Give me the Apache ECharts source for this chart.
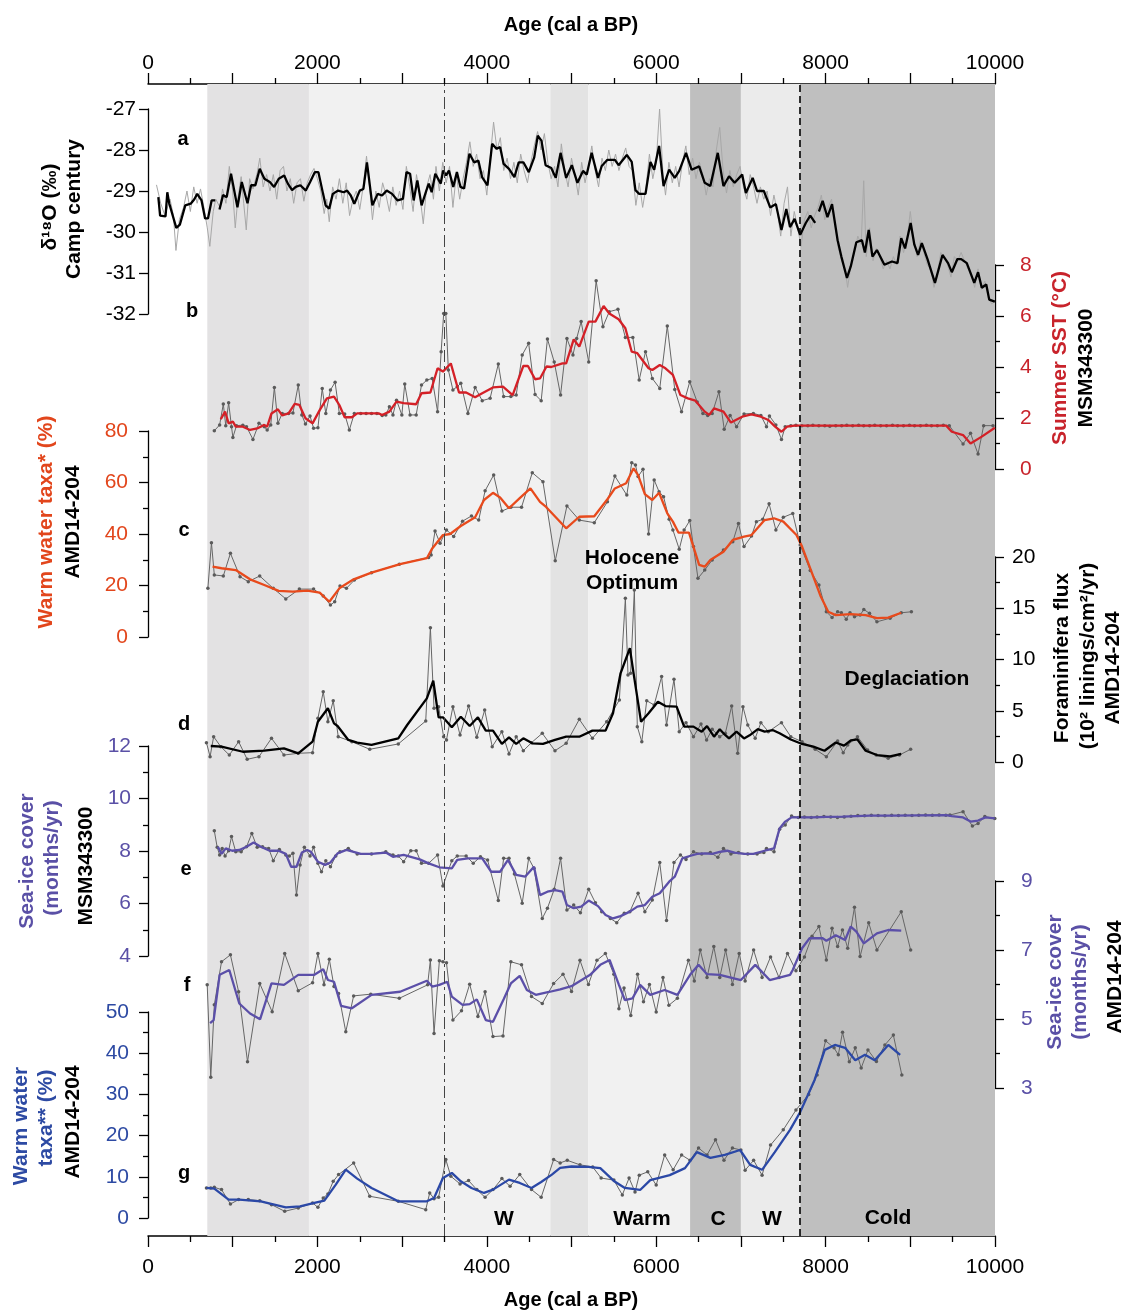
<!DOCTYPE html>
<html><head><meta charset="utf-8">
<script src="https://cdn.jsdelivr.net/npm/echarts@6/dist/echarts.min.js"></script>
<style>html,body{margin:0;padding:0;background:#fff}#c{width:1127px;height:1312px}</style>
</head><body><div id="c"></div>
<script>
// ---------- DATA ----------
const xTicks = [0, 2000, 4000, 6000, 8000, 10000];
const bandStart = [700, 1900, 4750, 5200, 6400, 7000, 7700];
const bandEnd   = [1900, 4750, 5200, 6400, 7000, 7700, 10000];
const periodLines = [3500, 7700];

// a: d18O Camp Century (raw, smoothed)
const aRaw = [[100,-28.85],[150,-29.3],[200,-29.6],[260,-29.2],[300,-29.6],[330,-30.45],[370,-29.7],[420,-29.4],[460,-29.0],[500,-29.5],[540,-28.9],[580,-29.3],[620,-28.95],[660,-29.4],[700,-29.9],[730,-30.35],[770,-29.5],[800,-29.2],[850,-29.4],[880,-28.95],[920,-29.3],[960,-28.4],[1000,-29.0],[1030,-29.9],[1060,-29.2],[1100,-28.65],[1130,-29.3],[1160,-29.95],[1200,-28.7],[1240,-28.95],[1290,-28.55],[1320,-28.2],[1360,-28.9],[1400,-28.6],[1440,-29.0],[1480,-28.6],[1520,-29.2],[1560,-28.5],[1600,-28.4],[1640,-29.0],[1680,-28.7],[1720,-29.3],[1760,-28.8],[1800,-28.7],[1840,-29.25],[1880,-28.8],[1920,-28.6],[1960,-28.45],[2000,-28.7],[2040,-29.0],[2080,-29.55],[2110,-29.2],[2140,-29.75],[2180,-28.9],[2220,-29.2],[2260,-28.7],[2300,-29.3],[2340,-28.8],[2380,-29.6],[2420,-29.2],[2460,-29.0],[2500,-29.45],[2540,-28.9],[2580,-28.15],[2620,-29.0],[2650,-29.7],[2690,-29.0],[2730,-29.4],[2770,-28.8],[2810,-29.1],[2850,-29.5],[2890,-28.9],[2930,-29.35],[2970,-29.0],[3010,-29.45],[3050,-28.4],[3090,-28.9],[3130,-29.5],[3170,-28.6],[3210,-29.1],[3250,-29.8],[3290,-28.9],[3330,-28.6],[3370,-29.2],[3400,-28.4],[3440,-29.0],[3480,-28.3],[3520,-28.8],[3560,-28.4],[3600,-29.4],[3640,-28.6],[3680,-29.2],[3720,-28.7],[3760,-28.3],[3800,-27.8],[3840,-28.4],[3880,-28.1],[3920,-28.7],[3960,-28.5],[4000,-29.1],[4040,-28.2],[4080,-27.32],[4120,-28.0],[4160,-27.7],[4200,-28.5],[4240,-28.2],[4280,-28.7],[4320,-28.3],[4360,-28.8],[4400,-28.1],[4440,-28.5],[4480,-28.8],[4520,-28.3],[4560,-27.9],[4600,-27.55],[4640,-28.0],[4680,-27.6],[4720,-28.3],[4760,-28.7],[4800,-28.4],[4840,-28.9],[4880,-27.85],[4920,-28.5],[4960,-28.9],[5000,-28.2],[5040,-28.6],[5080,-29.1],[5120,-28.3],[5160,-28.8],[5200,-28.4],[5240,-27.9],[5280,-28.5],[5320,-28.9],[5360,-28.2],[5400,-28.5],[5440,-28.0],[5480,-28.4],[5520,-28.1],[5560,-28.5],[5600,-28.2],[5640,-27.95],[5680,-28.4],[5720,-28.5],[5760,-29.35],[5800,-28.8],[5840,-29.4],[5880,-28.9],[5920,-28.1],[5960,-28.7],[6000,-28.3],[6040,-27.0],[6080,-28.6],[6110,-29.1],[6150,-28.3],[6190,-28.8],[6230,-28.4],[6270,-28.9],[6310,-28.3],[6350,-27.9],[6390,-28.6],[6430,-28.2],[6470,-28.7],[6510,-28.3],[6550,-28.6],[6590,-29.1],[6630,-28.7],[6670,-28.9],[6710,-28.0],[6750,-27.45],[6790,-28.5],[6830,-29.05],[6870,-28.5],[6910,-28.9],[6950,-28.6],[6990,-28.4],[7030,-28.9],[7070,-29.2],[7110,-28.6],[7150,-28.9],[7190,-29.3],[7230,-28.9],[7270,-29.2],[7310,-29.0],[7350,-29.6],[7390,-29.1],[7430,-29.5],[7470,-30.1],[7510,-29.3],[7550,-28.9],[7590,-30.1],[7630,-29.5],[7670,-29.9],[7710,-30.35],[7750,-29.7],[7790,-29.5],[7830,-29.9],[7870,-29.6],[7910,-29.4],[7950,-29.1],[7990,-29.7],[8030,-29.4],[8070,-29.2],[8110,-29.8],[8150,-30.4],[8190,-30.7],[8230,-30.9],[8260,-31.35],[8300,-30.8],[8340,-30.5],[8380,-30.1],[8420,-30.3],[8450,-28.75],[8480,-30.6],[8520,-29.9],[8560,-30.7],[8600,-30.4],[8640,-30.6],[8680,-30.9],[8720,-30.7],[8760,-30.9],[8800,-30.6],[8840,-30.8],[8880,-30.1],[8920,-30.5],[8960,-30.2],[9000,-29.5],[9040,-30.2],[9080,-30.6],[9120,-30.2],[9160,-30.5],[9200,-30.8],[9240,-30.9],[9280,-31.35],[9320,-31.0],[9360,-30.5],[9400,-30.6],[9440,-30.8],[9480,-31.1],[9520,-30.6],[9560,-30.7],[9600,-30.5],[9640,-30.7],[9680,-30.9],[9720,-31.0],[9760,-31.35],[9800,-30.9],[9840,-31.4],[9880,-31.2],[9920,-31.6],[9960,-31.75],[9998,-31.7]];
const aSmooth = [[122,-29.15],[143,-29.6],[207,-29.62],[228,-29.03],[250,-29.3],[334,-29.9],[376,-29.82],[440,-29.35],[504,-29.31],[547,-29.2],[581,-29.07],[632,-29.23],[674,-29.67],[708,-29.67],[751,-29.23],[793,-29.23],[815,null],[844,-29.45],[886,-29.1],[929,-29.15],[980,-28.58],[1056,-29.4],[1107,-28.78],[1175,-29.3],[1217,-28.86],[1268,-28.86],[1319,-28.46],[1374,-28.7],[1438,-28.78],[1489,-28.9],[1544,-28.7],[1608,-28.62],[1651,-28.82],[1701,-28.98],[1744,-28.9],[1799,-28.86],[1863,-28.99],[1914,-28.78],[1969,-28.54],[2012,-28.54],[2067,-29.07],[2097,-29.35],[2139,-29.43],[2182,-29.07],[2245,-28.99],[2309,-29.03],[2351,-28.99],[2394,-29.11],[2436,-29.31],[2500,-28.99],[2543,-28.95],[2585,-28.3],[2649,-29.35],[2712,-29.07],[2763,-29.11],[2818,-28.99],[2882,-29.07],[2946,-29.23],[3009,-29.19],[3052,-28.54],[3094,-28.58],[3137,-29.23],[3180,-28.74],[3230,-29.35],[3286,-28.99],[3315,-28.82],[3349,-29.03],[3392,-28.58],[3456,-28.82],[3485,-28.5],[3519,-28.62],[3553,-28.5],[3604,-28.9],[3647,-28.54],[3689,-28.9],[3732,-28.94],[3795,-28.09],[3850,-28.3],[3901,-28.26],[3944,-28.66],[4008,-28.86],[4063,-27.85],[4114,-27.97],[4157,-27.93],[4199,-28.34],[4262,-28.46],[4326,-28.66],[4377,-28.3],[4432,-28.3],[4496,-28.54],[4560,-28.18],[4602,-27.65],[4645,-27.77],[4694,-28.37],[4761,-28.44],[4814,-28.68],[4871,-28.07],[4937,-28.68],[5004,-28.37],[5070,-28.8],[5136,-28.51],[5180,-28.6],[5238,-28.07],[5313,-28.68],[5357,-28.39],[5424,-28.24],[5512,-28.24],[5556,-28.37],[5653,-28.12],[5711,-28.29],[5755,-28.98],[5799,-29.07],[5874,-29.07],[5932,-28.29],[5976,-28.48],[6034,-27.9],[6087,-28.88],[6153,-28.48],[6219,-28.68],[6272,-28.51],[6352,-28.07],[6418,-28.48],[6507,-28.4],[6573,-28.8],[6639,-28.88],[6727,-28.07],[6794,-28.88],[6860,-28.64],[6926,-28.8],[7015,-28.6],[7059,-29.05],[7139,-28.68],[7191,-29.0],[7271,-29.0],[7346,-29.4],[7413,-29.32],[7479,-29.95],[7536,-29.44],[7580,-29.88],[7634,-29.68],[7700,-30.07],[7766,-29.78],[7819,-29.6],[7877,-29.78],[7900,null],[7921,-29.5],[7965,-29.24],[8022,-29.64],[8076,-29.32],[8142,-30.2],[8186,-30.6],[8252,-31.12],[8297,-30.84],[8363,-30.25],[8429,-30.2],[8464,-30.5],[8509,-29.95],[8553,-30.6],[8606,-30.44],[8694,-30.8],[8783,-30.72],[8849,-30.76],[8893,-30.15],[8938,-30.4],[9004,-29.78],[9048,-30.31],[9092,-30.56],[9136,-30.27],[9203,-30.66],[9291,-31.24],[9380,-30.56],[9446,-30.76],[9490,-30.98],[9556,-30.66],[9601,-30.66],[9667,-30.76],[9755,-31.24],[9800,-30.98],[9844,-31.36],[9897,-31.28],[9932,-31.65],[9998,-31.7]];

// b: Summer SST MSM343300
const bRaw = [[783,1.5],[846,1.73],[889,2.55],[918,1.7],[952,2.6],[986,1.66],[1002,1.24],[1045,1.7],[1120,1.72],[1163,1.66],[1239,1.16],[1310,1.79],[1373,1.66],[1407,1.53],[1449,1.73],[1492,3.2],[1534,1.79],[1584,2.18],[1660,2.18],[1711,2.2],[1774,3.29],[1816,2.12],[1859,1.76],[1913,2.08],[1955,1.6],[2006,1.62],[2057,3.16],[2099,2.18],[2154,3.1],[2209,3.4],[2259,2.18],[2322,2.16],[2377,1.53],[2436,2.18],[2512,2.18],[2575,2.18],[2639,2.18],[2702,2.18],[2765,2.1],[2808,2.12],[2850,2.44],[2892,2.12],[2934,2.7],[2997,2.12],[3031,3.33],[3094,2.12],[3166,2.12],[3229,3.29],[3292,3.49],[3355,3.55],[3419,2.25],[3461,4.6],[3491,6.1],[3516,6.1],[3546,3.88],[3600,3.1],[3651,3.23],[3693,3.36],[3777,2.18],[3862,3.2],[3946,2.68],[4039,2.77],[4136,4.12],[4199,2.84],[4284,2.84],[4347,2.9],[4418,4.47],[4494,4.93],[4570,2.92],[4642,2.68],[4716,5.1],[4796,4.2],[4871,2.9],[4946,5.12],[5017,4.47],[5061,5.12],[5114,5.78],[5203,4.2],[5291,7.38],[5371,5.58],[5446,6.17],[5548,6.26],[5636,5.16],[5724,5.16],[5799,3.49],[5874,4.6],[5954,3.55],[6042,3.16],[6131,5.61],[6219,3.12],[6299,2.25],[6396,3.42],[6484,2.63],[6551,2.18],[6608,2.1],[6661,2.18],[6741,3.03],[6803,1.56],[6873,2.1],[6949,1.66],[7037,2.16],[7147,2.18],[7236,2.1],[7302,1.66],[7337,2.08],[7413,1.73],[7479,1.16],[7523,1.66],[7589,1.7],[7650,1.72],[7720,1.7],[7790,1.7],[7850,1.72],[7920,1.7],[7990,1.7],[8050,1.68],[8120,1.7],[8190,1.7],[8250,1.72],[8320,1.7],[8390,1.72],[8450,1.7],[8520,1.7],[8580,1.72],[8650,1.7],[8720,1.7],[8790,1.72],[8850,1.7],[8920,1.7],[8990,1.72],[9050,1.7],[9120,1.7],[9190,1.72],[9250,1.7],[9320,1.7],[9390,1.72],[9460,1.7],[9623,0.98],[9711,1.4],[9800,0.59],[9866,1.7],[9976,1.7]];
const bSmooth = [[859,1.95],[910,2.25],[952,1.79],[1002,1.86],[1036,1.66],[1120,1.66],[1205,1.53],[1289,1.59],[1373,1.73],[1407,1.66],[1458,2.18],[1534,2.34],[1584,2.1],[1660,2.18],[1732,2.55],[1787,2.51],[1859,1.99],[1943,1.79],[2027,2.31],[2112,2.77],[2196,2.84],[2259,2.51],[2322,2.03],[2407,2.03],[2470,2.18],[2723,2.18],[2765,2.12],[2850,2.25],[2934,2.64],[3018,2.58],[3166,2.54],[3229,2.97],[3334,3.0],[3419,3.95],[3482,3.82],[3575,4.14],[3672,3.0],[3756,3.0],[3862,2.81],[3946,2.97],[4073,3.2],[4191,3.23],[4305,2.9],[4431,4.04],[4486,4.04],[4570,3.52],[4628,3.55],[4705,4.02],[4761,4.0],[4893,4.14],[4937,4.14],[5026,5.08],[5092,4.8],[5203,5.78],[5282,5.78],[5379,6.39],[5446,6.1],[5556,5.87],[5636,5.52],[5711,4.6],[5777,4.54],[5910,3.95],[5954,3.88],[6042,4.08],[6109,3.95],[6197,3.69],[6286,2.9],[6374,2.77],[6462,2.68],[6573,2.25],[6626,2.12],[6683,2.38],[6794,2.25],[6882,1.82],[7015,2.05],[7125,2.14],[7236,2.05],[7324,1.92],[7404,1.66],[7479,1.46],[7545,1.66],[7634,1.7],[9424,1.7],[9490,1.46],[9623,1.33],[9711,1.0],[9844,1.27],[9998,1.62]];

// c: Warm water taxa* AMD14-204
const cRaw = [[707,18.9],[749,36.6],[783,24.1],[889,23.7],[973,32.5],[1087,23.4],[1184,21.5],[1319,23.7],[1479,18.9],[1627,14.8],[1787,18.6],[1955,18.6],[2069,15.9],[2154,12.4],[2204,13.7],[2267,19.8],[2343,18.9],[2436,22.1],[2639,25.0],[2967,28.3],[3313,30.9],[3343,31.8],[3389,41.2],[3448,36.4],[3524,41.6],[3609,39.0],[3714,45.0],[3819,47.0],[3904,45.4],[3980,56.8],[4081,62.9],[4178,48.9],[4284,50.4],[4410,50.4],[4537,63.8],[4663,60.3],[4808,29.6],[4946,50.9],[5092,45.4],[5269,44.4],[5424,52.5],[5512,62.5],[5653,55.1],[5711,67.7],[5755,66.8],[5786,62.3],[5844,65.1],[5910,40.0],[5976,61.0],[6034,56.4],[6087,54.5],[6153,45.7],[6197,41.6],[6272,34.1],[6330,41.6],[6396,45.2],[6440,35.1],[6493,22.8],[6573,26.0],[6661,29.9],[6794,33.8],[6904,37.0],[6971,44.1],[7037,35.1],[7125,39.2],[7183,44.8],[7258,45.7],[7333,51.7],[7413,41.6],[7501,46.5],[7612,48.0],[7700,35.7],[7819,25.8],[7921,20.2],[8009,9.8],[8076,7.6],[8142,9.8],[8186,9.4],[8244,6.9],[8288,9.4],[8341,7.9],[8407,8.5],[8451,10.7],[8518,9.2],[8606,5.9],[8761,7.3],[8893,9.4],[9013,9.8]];
const cSmooth = [[762,27.3],[868,26.7],[1036,26.0],[1205,22.4],[1373,20.2],[1542,17.9],[1711,17.6],[1880,18.0],[2027,17.2],[2141,13.7],[2259,18.9],[2428,22.4],[2639,25.0],[2976,28.3],[3292,30.6],[3356,34.4],[3482,39.6],[3566,40.0],[3693,43.1],[3862,46.5],[3967,53.2],[4073,56.0],[4157,54.2],[4262,50.0],[4389,53.9],[4515,57.7],[4628,52.5],[4700,50.5],[4937,42.2],[5092,46.7],[5269,46.9],[5424,53.5],[5512,57.7],[5645,59.7],[5733,65.5],[5786,62.9],[5866,55.5],[5954,53.2],[6034,56.0],[6131,48.0],[6197,44.8],[6264,40.5],[6387,40.5],[6507,28.0],[6573,27.3],[6639,29.9],[6794,33.1],[6904,37.7],[7037,39.0],[7125,39.6],[7280,45.4],[7391,46.1],[7501,44.8],[7656,39.6],[7722,35.1],[7833,25.4],[7943,15.7],[8031,9.8],[8120,8.5],[8297,8.9],[8473,8.5],[8606,7.3],[8739,7.5],[8893,9.4]];

// d: Foraminifera flux AMD14-204
const dRaw = [[690,1.89],[733,0.52],[775,2.47],[859,1.5],[960,0.68],[1070,1.98],[1171,0.26],[1310,0.52],[1458,2.31],[1605,0.68],[1774,0.85],[1943,0.91],[2006,4.26],[2069,6.86],[2124,3.93],[2187,5.98],[2246,2.47],[2407,1.98],[2618,1.24],[2955,1.76],[3279,4.0],[3334,13.1],[3377,5.24],[3431,5.4],[3490,2.47],[3524,2.15],[3600,5.4],[3684,2.63],[3785,5.46],[3882,2.41],[3975,5.07],[4064,1.5],[4178,2.96],[4262,0.78],[4347,2.47],[4431,1.1],[4528,1.89],[4655,2.8],[4805,1.1],[4937,1.82],[5092,4.16],[5247,2.31],[5415,3.93],[5565,6.05],[5636,15.97],[5667,8.49],[5698,8.65],[5742,16.78],[5777,3.45],[5830,1.98],[5888,5.98],[5976,5.56],[6064,8.33],[6122,3.61],[6210,8.07],[6272,2.96],[6352,3.84],[6440,2.47],[6529,3.71],[6595,2.15],[6661,3.19],[6750,2.47],[6816,2.8],[6891,5.46],[6962,0.85],[7024,5.4],[7081,3.61],[7169,2.31],[7236,3.84],[7324,2.96],[7479,3.84],[7589,2.47],[7722,1.98],[7877,1.24],[8009,0.52],[8142,2.05],[8208,0.91],[8261,1.66],[8376,2.47],[8496,1.17],[8597,0.68],[8739,0.36],[8871,0.68],[9004,1.24]];
const dSmooth = [[741,1.56],[868,1.5],[1120,1.0],[1373,1.1],[1605,1.33],[1774,0.85],[1943,1.98],[2006,3.93],[2124,5.24],[2196,3.77],[2238,3.51],[2365,2.15],[2470,1.89],[2639,1.66],[2955,2.31],[3060,3.61],[3292,6.21],[3368,7.93],[3431,4.36],[3482,4.36],[3587,3.38],[3693,4.42],[3798,3.51],[3895,4.36],[3988,3.06],[4073,3.06],[4178,1.76],[4262,2.41],[4347,1.76],[4431,2.31],[4537,1.82],[4663,1.76],[4805,2.15],[4937,2.47],[5092,2.47],[5247,3.06],[5402,3.06],[5490,4.75],[5579,8.65],[5689,11.1],[5733,8.65],[5821,3.93],[5910,4.75],[6020,5.88],[6109,5.46],[6241,5.4],[6330,3.45],[6440,3.45],[6537,2.96],[6600,3.5],[6683,2.47],[6750,3.2],[6794,2.8],[6860,2.3],[6948,2.96],[7037,2.3],[7103,2.6],[7200,3.2],[7280,2.96],[7380,3.1],[7457,2.8],[7589,2.2],[7722,1.76],[7855,1.5],[7987,1.1],[8120,1.9],[8217,1.6],[8297,2.1],[8376,2.2],[8473,1.1],[8606,0.68],[8761,0.55],[8893,0.8]];

// e: Sea-ice cover MSM343300
const eRaw = [[783,8.77],[817,8.14],[846,7.85],[876,8.1],[910,7.81],[952,8.01],[986,8.55],[1036,7.97],[1100,7.97],[1163,8.16],[1226,8.67],[1289,8.14],[1352,8.16],[1424,8.1],[1479,7.63],[1551,8.06],[1627,7.85],[1669,7.81],[1711,7.91],[1753,6.32],[1795,7.47],[1846,8.14],[1913,7.81],[1955,8.14],[2006,7.53],[2048,7.21],[2099,7.63],[2154,7.4],[2217,7.81],[2267,7.97],[2365,8.1],[2470,7.89],[2639,7.89],[2808,7.97],[2892,7.85],[2955,7.81],[3018,7.59],[3103,8.01],[3166,8.01],[3229,7.53],[3313,7.53],[3419,7.85],[3482,6.67],[3587,7.63],[3651,7.81],[3756,7.81],[3840,7.53],[3925,7.78],[4009,7.66],[4136,6.11],[4199,7.72],[4262,7.72],[4326,7.12],[4418,6.01],[4494,7.72],[4557,7.34],[4655,5.43],[4716,5.82],[4796,6.54],[4871,7.72],[4946,5.75],[5026,5.94],[5105,5.65],[5203,6.54],[5282,6.03],[5357,5.69],[5459,5.43],[5534,5.27],[5623,5.63],[5689,5.69],[5786,6.39],[5866,5.69],[5954,6.13],[6042,7.56],[6122,5.35],[6210,7.56],[6286,7.85],[6352,7.68],[6440,7.97],[6537,7.89],[6639,7.94],[6728,7.76],[6794,8.1],[6882,7.89],[6971,7.94],[7081,7.89],[7191,7.89],[7271,7.94],[7302,8.1],[7391,7.97],[7457,8.83],[7523,8.99],[7598,9.33],[7678,9.28],[7750,9.3],[7830,9.28],[7900,9.3],[7980,9.31],[8060,9.3],[8140,9.28],[8220,9.3],[8300,9.32],[8380,9.35],[8460,9.34],[8540,9.36],[8620,9.35],[8700,9.34],[8780,9.36],[8860,9.35],[8940,9.36],[9020,9.35],[9100,9.36],[9180,9.37],[9260,9.36],[9340,9.37],[9420,9.36],[9468,9.37],[9623,9.5],[9733,8.95],[9800,9.05],[9880,9.31],[9998,9.24]];
const eSmooth = [[825,8.16],[868,7.89],[918,8.1],[994,8.01],[1078,8.04],[1163,8.16],[1247,8.32],[1331,8.16],[1437,8.01],[1542,8.01],[1627,7.89],[1690,7.4],[1753,7.4],[1816,7.94],[1880,8.04],[1922,7.97],[2006,7.59],[2090,7.47],[2154,7.56],[2238,7.91],[2343,8.04],[2512,7.89],[2639,7.89],[2808,7.94],[2892,7.78],[3018,7.85],[3208,7.68],[3313,7.53],[3440,7.38],[3587,7.34],[3651,7.66],[3777,7.72],[3946,7.72],[4052,7.21],[4157,7.21],[4250,7.66],[4347,7.09],[4452,7.02],[4557,7.4],[4628,6.32],[4716,6.45],[4805,6.51],[4893,6.45],[4946,5.94],[5026,5.82],[5114,5.88],[5203,6.11],[5313,5.9],[5402,5.56],[5490,5.43],[5579,5.52],[5689,5.69],[5777,5.88],[5866,5.94],[5954,6.26],[6042,6.39],[6153,6.83],[6219,7.02],[6308,7.72],[6396,7.81],[6484,7.89],[6573,7.91],[6661,7.89],[6750,7.97],[6838,8.01],[6926,7.94],[7037,7.89],[7147,7.89],[7280,8.01],[7391,8.1],[7457,8.86],[7523,9.12],[7598,9.28],[7722,9.28],[7855,9.28],[8000,9.3],[8200,9.31],[8518,9.35],[8800,9.35],[9100,9.36],[9424,9.37],[9490,9.33],[9623,9.28],[9711,9.12],[9800,9.16],[9888,9.28],[9998,9.24]];

// f: Sea-ice cover AMD14-204
const fRaw = [[699,5.99],[741,3.31],[783,5.41],[868,6.66],[973,6.86],[1070,5.79],[1175,3.76],[1319,6.03],[1466,5.21],[1614,6.9],[1774,5.82],[1943,6.05],[2006,6.9],[2078,5.99],[2141,6.73],[2196,5.94],[2250,5.74],[2335,4.63],[2428,5.67],[2630,5.72],[2967,5.6],[3301,5.99],[3334,6.71],[3377,4.58],[3440,6.69],[3482,6.66],[3524,6.63],[3600,4.97],[3701,5.24],[3798,6.01],[3895,5.07],[3980,5.79],[4073,4.49],[4191,4.51],[4284,6.66],[4410,6.57],[4528,5.65],[4655,5.45],[4789,6.03],[4900,6.3],[5000,5.8],[5100,6.7],[5200,6.0],[5300,6.7],[5400,6.9],[5500,6.3],[5560,5.3],[5620,5.9],[5700,5.1],[5780,6.3],[5850,5.5],[5920,6.0],[6000,5.2],[6080,6.2],[6150,5.4],[6250,5.6],[6380,6.7],[6450,6.1],[6520,7.0],[6600,6.2],[6680,7.1],[6750,6.2],[6820,7.0],[6900,6.0],[6980,6.9],[7050,6.1],[7150,7.0],[7250,6.2],[7350,6.8],[7450,6.2],[7550,6.9],[7650,6.4],[7750,6.8],[7840,7.4],[7921,7.68],[8009,6.71],[8076,7.63],[8142,7.1],[8199,7.58],[8261,7.05],[8341,8.24],[8407,6.81],[8509,7.79],[8606,7.0],[8893,8.11],[9004,7.0]];
const fSmooth = [[733,4.88],[775,4.97],[846,6.28],[960,6.42],[1078,5.45],[1205,5.16],[1323,4.99],[1458,6.03],[1605,5.99],[1774,6.28],[1964,6.28],[2069,6.44],[2124,6.13],[2196,6.08],[2280,5.38],[2407,5.31],[2639,5.7],[2976,5.79],[3292,6.11],[3356,5.94],[3440,5.99],[3533,6.08],[3587,5.65],[3714,5.41],[3798,5.43],[3882,5.57],[3988,4.97],[4073,4.92],[4199,5.57],[4284,6.03],[4389,6.25],[4473,5.84],[4578,5.7],[4747,5.79],[4866,5.86],[5000,5.95],[5220,6.28],[5340,6.57],[5450,6.71],[5560,5.99],[5630,5.55],[5720,5.6],[5810,5.99],[5930,5.7],[6100,5.84],[6250,5.7],[6400,6.28],[6500,6.57],[6600,6.3],[6750,6.28],[7000,6.13],[7170,6.57],[7340,6.13],[7580,6.28],[7612,6.42],[7722,7.05],[7811,7.34],[7965,7.34],[8009,7.27],[8120,7.43],[8230,7.29],[8297,7.68],[8363,7.53],[8451,7.19],[8606,7.48],[8739,7.58],[8893,7.56]];

// g: Warm water taxa** AMD14-204
const gRaw = [[690,7.29],[741,7.29],[783,7.45],[868,6.89],[973,3.4],[1070,4.46],[1184,4.46],[1319,4.21],[1458,3.24],[1614,1.62],[1774,2.43],[1943,3.65],[2006,2.59],[2069,4.86],[2124,5.83],[2187,8.91],[2250,10.53],[2428,13.37],[2618,5.27],[2955,4.05],[3279,2.03],[3326,6.08],[3377,4.7],[3431,5.02],[3516,14.18],[3575,10.13],[3684,8.27],[3785,9.08],[3882,6.89],[3980,5.02],[4073,6.89],[4178,9.56],[4275,7.7],[4389,10.53],[4528,6.89],[4642,5.02],[4789,14.18],[4866,13.37],[4950,14.0],[5100,12.9],[5250,12.4],[5350,9.7],[5500,9.2],[5600,5.6],[5680,9.7],[5750,6.3],[5800,10.4],[5900,11.2],[6000,8.0],[6100,15.3],[6200,11.7],[6300,15.3],[6400,14.0],[6500,17.0],[6600,15.3],[6700,19.0],[6800,14.0],[6900,17.0],[7000,16.5],[7050,11.6],[7150,14.0],[7250,10.4],[7350,17.7],[7500,21.4],[7650,26.2],[7800,30.0],[7900,34.7],[8000,43.0],[8100,41.3],[8150,39.6],[8200,45.1],[8280,37.9],[8350,41.3],[8420,36.4],[8500,40.8],[8600,38.0],[8700,42.0],[8800,44.4],[8900,34.7]];
const gSmooth = [[690,7.29],[783,7.13],[952,4.46],[1078,4.46],[1331,4.05],[1627,2.59],[1795,2.84],[1964,3.65],[2082,4.21],[2217,8.1],[2335,11.75],[2470,9.56],[2639,7.29],[2955,4.05],[3292,4.05],[3377,4.86],[3482,9.72],[3587,10.94],[3693,8.91],[3819,7.29],[3967,6.08],[4073,6.89],[4262,9.32],[4389,8.51],[4528,7.29],[4642,8.75],[4768,10.53],[4866,12.16],[5000,12.5],[5200,12.4],[5340,12.1],[5500,9.0],[5630,7.3],[5810,6.8],[5930,9.2],[6160,10.4],[6340,12.1],[6480,16.0],[6640,14.6],[6810,15.3],[6990,16.5],[7110,12.9],[7250,11.7],[7400,16.0],[7580,21.4],[7700,25.7],[7870,33.5],[7990,40.8],[8110,42.0],[8230,41.3],[8350,38.3],[8465,39.6],[8580,38.3],[8740,42.0],[8880,39.6]];

// ---------- CHART ----------
const FONT = '"Liberation Sans", Arial, Helvetica, sans-serif';
const RED = '#c8232b', ORANGE = '#e2461c', PURPLE = '#5a50a6', BLUE = '#2d4aa3';
const bandColors = ['#e3e2e3', '#f1f1f1', '#e3e3e3', '#f1f1f1', '#bfbfbf', '#ebebeb', '#bfbfbf'];

const chart = echarts.init(document.getElementById('c'), null, {renderer: 'canvas'});

const panels = [
  {top:109, h:205, pos:'left',  min:-32, max:-27, iv:1,  minor:0, col:'#000', margin:12, raw:aRaw, sm:aSmooth, rawCol:'#a8a8a8', rawSym:false, smCol:'#000'},
  {top:265, h:204, pos:'right', min:0,   max:8,   iv:2,  minor:2, col:RED,    margin:25, raw:bRaw, sm:bSmooth, rawCol:'#666', rawSym:true, smCol:'#d42027'},
  {top:431, h:206, pos:'left',  min:0,   max:80,  iv:20, minor:2, col:ORANGE, margin:20, raw:cRaw, sm:cSmooth, rawCol:'#666', rawSym:true, smCol:'#e84a1c'},
  {top:557, h:205, pos:'right', min:0,   max:20,  iv:5,  minor:2, col:'#000', margin:17, raw:dRaw, sm:dSmooth, rawCol:'#666', rawSym:true, smCol:'#000'},
  {top:746, h:210, pos:'left',  min:4,   max:12,  iv:2,  minor:2, col:PURPLE, margin:17, raw:eRaw, sm:eSmooth, rawCol:'#666', rawSym:true, smCol:'#5b4fa8'},
  {top:881, h:207, pos:'right', min:3,   max:9,   iv:2,  minor:2, col:PURPLE, margin:26, raw:fRaw, sm:fSmooth, rawCol:'#666', rawSym:true, smCol:'#5b4fa8'},
  {top:1012,h:206, pos:'left',  min:0,   max:50,  iv:10, minor:2, col:BLUE,   margin:19, raw:gRaw, sm:gSmooth, rawCol:'#666', rawSym:true, smCol:'#2b48a6'}
];

const grids = [{left:148, right:132, top:84, height:1152}];
const xAxes = [
  {gridIndex:0, type:'value', position:'bottom', min:0, max:10000, interval:1000,
   axisLine:{show:true, onZero:false, lineStyle:{color:'#000', width:1.5}},
   axisTick:{show:true, length:11, lineStyle:{color:'#000', width:1.3}},
   minorTick:{show:true, splitNumber:2, length:6, lineStyle:{color:'#000', width:1.3}},
   splitLine:{show:false},
   axisLabel:{margin:21, fontSize:21, color:'#000', fontFamily:FONT, formatter: v => xTicks.indexOf(v) >= 0 ? String(v) : ''}},
  {gridIndex:0, type:'value', position:'top', min:0, max:10000, interval:1000,
   axisLine:{show:true, onZero:false, lineStyle:{color:'#000', width:1.5}},
   axisTick:{show:true, length:11, lineStyle:{color:'#000', width:1.3}},
   minorTick:{show:true, splitNumber:2, length:6, lineStyle:{color:'#000', width:1.3}},
   splitLine:{show:false},
   axisLabel:{margin:10, fontSize:21, color:'#000', fontFamily:FONT, formatter: v => xTicks.indexOf(v) >= 0 ? String(v) : ''}}
];
const yAxes = [{gridIndex:0, type:'value', min:0, max:1, show:false}];
const series = [{
  type:'line', xAxisIndex:0, yAxisIndex:0, data:[[0,0.5]], showSymbol:false, silent:true,
  lineStyle:{opacity:0}, z:1,
  markArea:{silent:true, data: bandStart.map((s,i) => [{xAxis:s, itemStyle:{color:bandColors[i]}}, {xAxis:bandEnd[i]}])},
  markLine:{silent:true, symbol:['none','none'], label:{show:false}, animation:false,
    data:[
      {xAxis:periodLines[0], lineStyle:{color:'#444', width:1, type:[12,4,3,4]}},
      {xAxis:periodLines[1], lineStyle:{color:'#000', width:1.6, type:[7,4]}}
    ]}
}];

panels.forEach((p, i) => {
  const gi = i + 1;
  grids.push({left:148, right:132, top:p.top, height:p.h});
  xAxes.push({gridIndex:gi, type:'value', min:0, max:10000, show:false});
  yAxes.push({gridIndex:gi, type:'value', position:p.pos, min:p.min, max:p.max, interval:p.iv,
    axisLine:{show:true, onZero:false, lineStyle:{color:'#000', width:1.3}},
    axisTick:{show:true, length:9, lineStyle:{color:'#000', width:1.3}},
    minorTick:{show:p.minor > 0, splitNumber:p.minor || 5, length:5, lineStyle:{color:'#000', width:1.3}},
    splitLine:{show:false}, minorSplitLine:{show:false},
    axisLabel:{margin:p.margin, fontSize:21, color:p.col, fontFamily:FONT}});
  series.push({type:'line', xAxisIndex:gi+1, yAxisIndex:gi, data:p.raw.map(d => [d[0], d[1] === null ? '-' : d[1]]),
    showSymbol:p.rawSym, symbol:'circle', symbolSize:3.5, itemStyle:{color:'#5a5a5a'},
    lineStyle:{color:p.rawCol, width:1}, clip:false, z:3, silent:true, animation:false});
  series.push({type:'line', xAxisIndex:gi+1, yAxisIndex:gi, data:p.sm.map(d => [d[0], d[1] === null ? '-' : d[1]]),
    showSymbol:false, connectNulls:false, lineStyle:{color:p.smCol, width:2.3}, clip:false, z:4, silent:true, animation:false});
});

function vtext(t, x, y, color) {
  return {type:'text', x:x, y:y, rotation:Math.PI/2, z:100,
    style:{text:t, fill:color, font:'bold 21px ' + FONT, textAlign:'center', textVerticalAlign:'middle', align:'center', verticalAlign:'middle'}};
}
function htext(t, x, y, size) {
  return {type:'text', x:x, y:y, z:100,
    style:{text:t, fill:'#000', font:'bold ' + size + 'px ' + FONT, textAlign:'center', textVerticalAlign:'middle', align:'center', verticalAlign:'middle'}};
}

const graphic = [
  htext('Age (cal a BP)', 571, 25, 20),
  htext('Age (cal a BP)', 571, 1300, 20),
  vtext('δ¹⁸O (‰)', 50, 207, '#000'), vtext('Camp century', 74, 209, '#000'),
  vtext('Summer SST (°C)', 1060, 358, RED), vtext('MSM343300', 1086, 368, '#000'),
  vtext('Warm water taxa* (%)', 46, 522, ORANGE), vtext('AMD14-204', 73, 522, '#000'),
  vtext('Foraminifera flux', 1062, 658, '#000'), vtext('(10² linings/cm²/yr)', 1088, 656, '#000'), vtext('AMD14-204', 1113, 668, '#000'),
  vtext('Sea-ice cover', 27, 861, PURPLE), vtext('(months/yr)', 52, 858, PURPLE), vtext('MSM343300', 86, 866, '#000'),
  vtext('Sea-ice cover', 1055, 982, PURPLE), vtext('(months/yr)', 1080, 982, PURPLE), vtext('AMD14-204', 1115, 977, '#000'),
  vtext('Warm water', 21, 1126, BLUE), vtext('taxa** (%)', 46, 1118, BLUE), vtext('AMD14-204', 73, 1122, '#000'),
  htext('a', 183, 139, 20), htext('b', 192, 311, 20), htext('c', 184, 530, 20), htext('d', 184, 724, 20),
  htext('e', 186, 869, 20), htext('f', 187, 985, 20), htext('g', 184, 1173, 20),
  htext('Holocene', 632, 558, 21), htext('Optimum', 632, 583, 21),
  htext('Deglaciation', 907, 679, 21),
  htext('W', 504, 1219, 21), htext('Warm', 642, 1219, 21), htext('C', 718, 1219, 21),
  htext('W', 772, 1219, 21), htext('Cold', 888, 1218, 21)
];

chart.setOption({
  animation:false,
  backgroundColor:'#fff',
  grid:grids, xAxis:xAxes, yAxis:yAxes, series:series, graphic:graphic
});
</script>
</body></html>
